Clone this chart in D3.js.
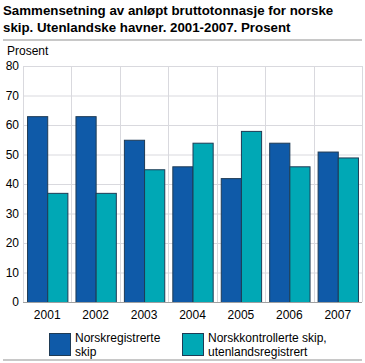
<!DOCTYPE html>
<html><head><meta charset="utf-8">
<script src="https://cdn.jsdelivr.net/npm/d3@7"></script>
<style>body{margin:0;background:#fff;font-family:"Liberation Sans",Arial,sans-serif;}</style>
</head><body><svg id="c" width="365" height="363"></svg>
<script>
const years = ["2001","2002","2003","2004","2005","2006","2007"];
const seriesNames = ["Norskregistrerte skip","Norskkontrollerte skip, utenlandsregistrert"];
const norskregistrerte = [63,63,55,46,42,54,51];
const norskkontrollerte = [37,37,45,54,58,46,49];
const yTicks = [0,10,20,30,40,50,60,70,80];
const colors = ["#0f5aa8","#00a8b5"];

(function(){
const svg = d3.select("#c");
const pl = 23, pr = 362, pt = 66, pb = 302;
const x = d3.scaleBand().domain(years).range([pl,pr]).paddingInner(0).paddingOuter(0);
const x1 = d3.scaleBand().domain([0,1]).range([0,x.bandwidth()]).paddingOuter(0.2).paddingInner(0);
const y = d3.scaleLinear().domain([0,80]).range([pb,pt]);

// title
const t = svg.append("text").attr("x",3).attr("y",15).attr("font-weight","bold").attr("font-size",13.3).attr("fill","#000");
t.append("tspan").attr("x",3).attr("dy",0).text("Sammensetning av anløpt bruttotonnasje for norske");
t.append("tspan").attr("x",3).attr("dy",17).text("skip. Utenlandske havner. 2001-2007. Prosent");
svg.append("line").attr("x1",3).attr("x2",362).attr("y1",40).attr("y2",40).attr("stroke","#c8c8c8").attr("stroke-width",2);
svg.append("text").attr("x",7).attr("y",55).attr("font-size",12).attr("fill","#000").text("Prosent");

// grid
svg.append("g").selectAll("line").data(yTicks).join("line")
  .attr("x1",pl).attr("x2",pr).attr("y1",d=>y(d)+0.5).attr("y2",d=>y(d)+0.5)
  .attr("stroke","#d9d9de").attr("stroke-width",1);
svg.append("g").selectAll("line").data(years).join("line")
  .attr("x1",(d,i)=>Math.round(pl + x.bandwidth()*(i+1))+0.5).attr("x2",(d,i)=>Math.round(pl + x.bandwidth()*(i+1))+0.5)
  .attr("y1",pt).attr("y2",pb).attr("stroke","#d9d9de");
svg.append("line").attr("x1",pl+0.5).attr("x2",pl+0.5).attr("y1",pt).attr("y2",pb).attr("stroke","#d9d9de");

// y labels
const yAxis = d3.axisLeft(y).tickValues(yTicks).tickSize(0).tickPadding(4);
const ya = svg.append("g").attr("transform",`translate(${pl},0)`).call(yAxis);
ya.select(".domain").remove();
ya.selectAll("text").attr("font-size",12).attr("font-family","Liberation Sans, Arial, sans-serif").attr("fill","#000");

// bars
const data = [norskregistrerte, norskkontrollerte];
data.forEach((vals,si)=>{
  svg.append("g").selectAll("rect").data(vals).join("rect")
    .attr("x",(d,i)=>x(years[i])+x1(si)+0.5)
    .attr("width",x1.bandwidth())
    .attr("y",d=>y(d)+0.5)
    .attr("height",d=>y(0)-y(d))
    .attr("fill",colors[si]).attr("stroke","#1f3b55").attr("stroke-width",1);
});
svg.append("line").attr("x1",pl).attr("x2",pr).attr("y1",pb+0.5).attr("y2",pb+0.5).attr("stroke","#a0a0a0");

// x labels
const xAxis = d3.axisBottom(x).tickSize(0).tickPadding(8);
const xa = svg.append("g").attr("transform",`translate(0,${pb})`).call(xAxis);
xa.select(".domain").remove();
xa.selectAll("text").attr("font-size",12).attr("font-family","Liberation Sans, Arial, sans-serif").attr("fill","#000");

// legend
const legX = [49,182];
const legLines = [["Norskregistrerte","skip"],["Norskkontrollerte skip,","utenlandsregistrert"]];
seriesNames.forEach((n,i)=>{
  svg.append("rect").attr("x",legX[i]+0.5).attr("y",333.5).attr("width",21).attr("height",22)
    .attr("fill",colors[i]).attr("stroke","#1f3b55");
  const tx = svg.append("text").attr("font-size",12).attr("fill","#000");
  legLines[i].forEach((l,j)=>tx.append("tspan").attr("x",legX[i]+26).attr("y",342+j*14).text(l));
});
svg.append("line").attr("x1",3).attr("x2",362).attr("y1",360).attr("y2",360).attr("stroke","#c8c8c8").attr("stroke-width",2);
})();
</script></body></html>
